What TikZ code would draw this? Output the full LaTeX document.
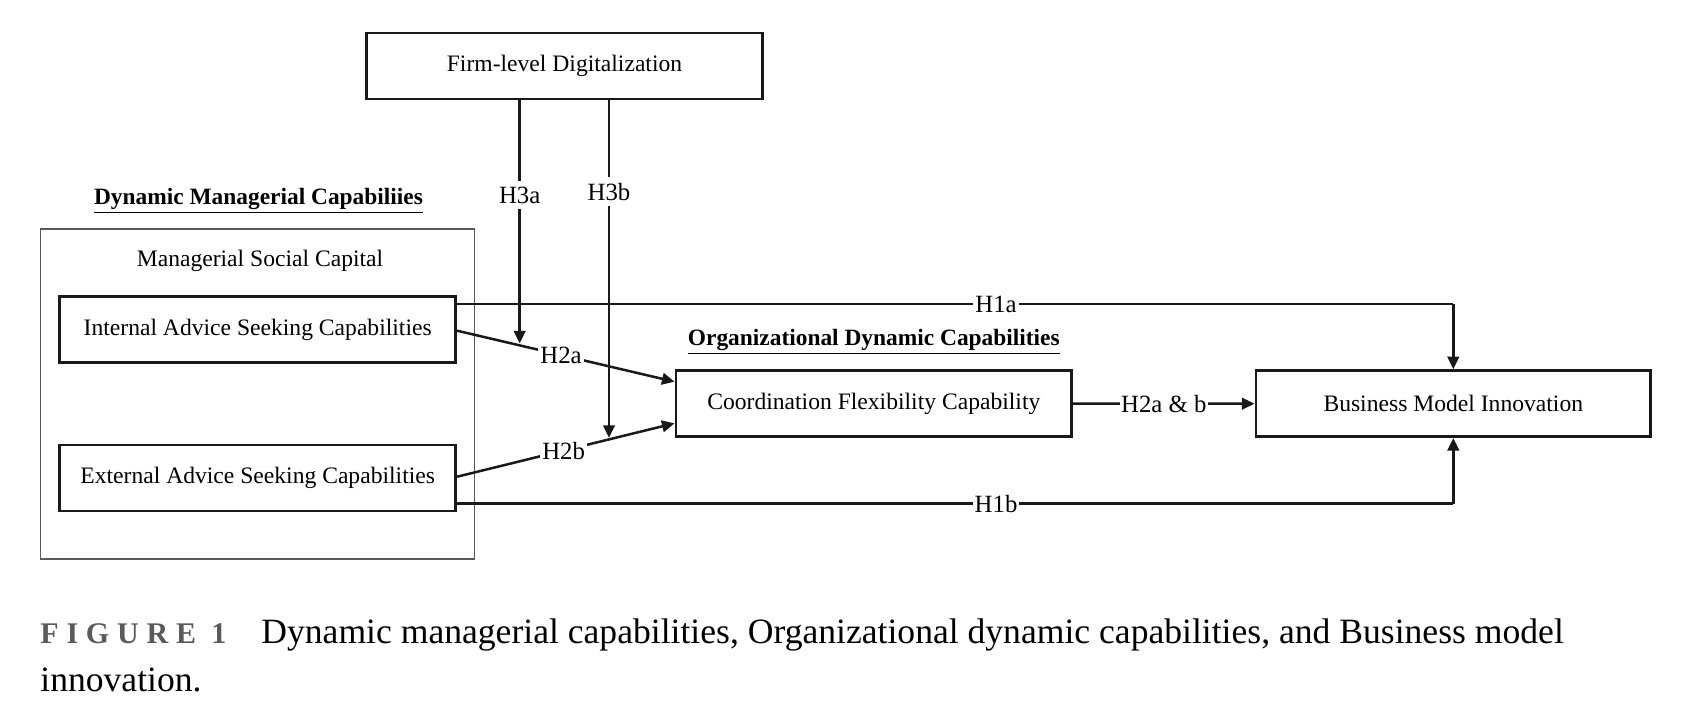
\documentclass[tikz,border=0pt]{standalone}
\usepackage{fontspec}
\setmainfont{Liberation Serif}
\usetikzlibrary{arrows.meta,calc}
\definecolor{capgray}{HTML}{5A5A5A}
\begin{document}
\begin{tikzpicture}[x=0.5pt,y=-0.5pt,
  box/.style={draw=black!90, line width=1.4pt, minimum width=#1*0.5pt, minimum height=33pt, inner sep=0pt, font=\fontsize{11.8}{14}\selectfont},
  container/.style={draw=black!65, line width=0.55pt, inner sep=0pt},
  arr/.style={draw=black!90, line width=1.25pt, -{Triangle[length=6.3pt,width=5.8pt]}},
  ln/.style={draw=black!90, line width=1.25pt},
  lab/.style={fill=white, inner sep=1pt, font=\fontsize{12.4}{14}\selectfont},
  head/.style={font=\fontsize{11.7}{14}\selectfont\bfseries, inner sep=0pt},
  txt/.style={font=\fontsize{11.8}{14}\selectfont, inner sep=0pt}]
\useasboundingbox (0,0) rectangle (1681,712);

% container
\node[container, minimum width=216.7pt, minimum height=165pt] (outer) at (257.5,394) {};
\node[head] (dmc) at (258.5,201) {\underline{Dynamic Managerial Capabiliies}};
\node[txt] (msc) at (260,261) {Managerial Social Capital};

% boxes
\node[box=396] (fd) at (564.5,66) {Firm-level Digitalization};
\node[box=396] (int) at (257.7,329.5) {Internal Advice Seeking Capabilities};
\node[box=396] (ext) at (257.7,478) {External Advice Seeking Capabilities};
\node[box=395.7] (cfc) at (873.8,403.5) {Coordination Flexibility Capability};
\node[box=394.7] (bmi) at (1453.3,403.7) {Business Model Innovation};
\node[head] (odc) at (873.8,342) {\underline{Organizational Dynamic Capabilities}};

% anchor coordinates
\coordinate (i1) at ($(int.north east)+(0,9)$);
\coordinate (i2) at ($(int.east)+(0,1.2)$);
\coordinate (e1) at ($(ext.east)+(0,-1.3)$);
\coordinate (e2) at ($(ext.south east)+(0,-8.7)$);
\coordinate (c1) at ($(cfc.west)+(0,-21.8)$);
\coordinate (c2) at ($(cfc.west)+(0,19.8)$);

% H2a / H2b
\draw[arr] (i2) -- node[lab, pos=0.478] (h2a) {H2a} coordinate[pos=0.2878] (m2a) (c1);
\draw[arr] (e1) -- node[lab, pos=0.49] (h2b) {H2b} coordinate[pos=0.6986] (m2b) (c2);

% H3a / H3b
\draw[arr] (m2a |- fd.south) -- node[lab, pos=0.39, inner sep=3pt] (h3a) {H3a} ($(m2a)+(0,-2)$);
\draw[arr] (m2b |- fd.south) -- node[lab, pos=0.27, inner sep=3pt] (h3b) {H3b} ($(m2b)+(0,-1.5)$);

% H1a / H1b
\coordinate (k1) at (bmi.north |- i1);
\coordinate (k2) at (bmi.south |- e2);
\draw[ln] (i1) -- node[lab, pos=0.541] (h1a) {H1a} (k1);
\draw[arr] (k1) -- (bmi.north);
\draw[ln] (e2) -- node[lab, pos=0.541] (h1b) {H1b} (k2);
\draw[arr] (k2) -- (bmi.south);

% H2a & b
\draw[arr] (cfc.east) -- node[lab, pos=0.5, inner sep=0.5pt] (h2ab) {H2a \& b} (bmi.west);

% caption
\node[anchor=base west, inner sep=0pt, text=capgray, font=\fontsize{15}{18}\selectfont\bfseries\addfontfeature{LetterSpace=26}] (figno) at (40,643) {FIGURE 1};
\node[anchor=base west, inner sep=0pt, font=\fontsize{17.8}{21}\selectfont] (cap1) at (261,643) {Dynamic managerial capabilities, Organizational dynamic capabilities, and Business model};
\node[anchor=base west, inner sep=0pt, font=\fontsize{17.8}{21}\selectfont] (cap2) at (40,691) {innovation.};
\end{tikzpicture}
\end{document}
